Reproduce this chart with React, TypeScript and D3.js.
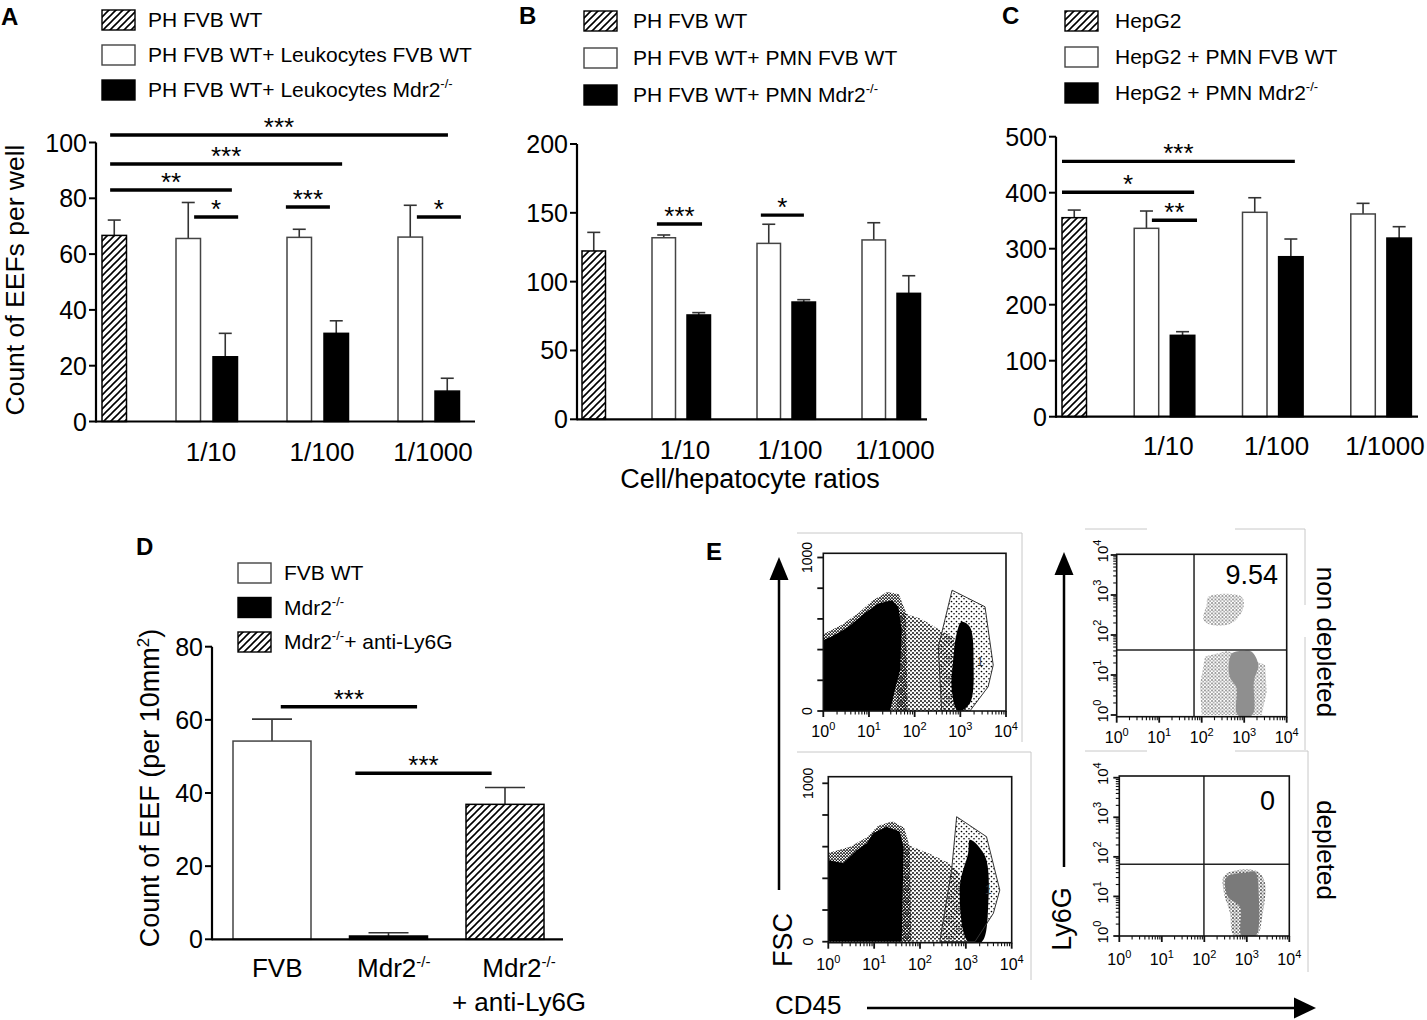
import * as d3 from "d3";

const FONT = "'Liberation Sans', Arial, Helvetica, sans-serif";

// ---------- panels A-C : bar charts ----------
const ratioLabels = ["1/10", "1/100", "1/1000"];

// A: count of EEFs per well (mean, sem)
const aCtrlMean = [66.7];
const aCtrlSem = [5.5];
const aWtMean = [65.6, 66.0, 66.1];
const aWtSem = [12.9, 2.9, 11.4];
const aMdrMean = [23.2, 31.6, 10.9];
const aMdrSem = [8.4, 4.5, 4.6];
const aLegend = ["PH FVB WT", "PH FVB WT+ Leukocytes FVB WT", "PH FVB WT+ Leukocytes Mdr2{-/-}"];
const aSig = [
  { from: 0.22, to: 9.35, y: 102.7, label: "***" },
  { from: 0.22, to: 6.49, y: 92.3, label: "***" },
  { from: 0.22, to: 3.51, y: 83.0, label: "**" },
  { from: 2.49, to: 3.68, y: 73.3, label: "*" },
  { from: 4.97, to: 6.16, y: 76.9, label: "***" },
  { from: 8.51, to: 9.7, y: 73.3, label: "*" },
];

// B
const bCtrlMean = [122.3];
const bCtrlSem = [13.5];
const bWtMean = [131.9, 127.8, 130.3];
const bWtSem = [2.0, 13.9, 12.5];
const bMdrMean = [75.8, 85.2, 91.5];
const bMdrSem = [1.7, 1.7, 12.8];
const bLegend = ["PH FVB WT", "PH FVB WT+ PMN FVB WT", "PH FVB WT+ PMN Mdr2{-/-}"];
const bSig = [
  { from: 2.14, to: 3.43, y: 141.9, label: "***" },
  { from: 5.11, to: 6.34, y: 148.3, label: "*" },
];

// C
const cCtrlMean = [355.4];
const cCtrlSem = [13.6];
const cWtMean = [336.4, 365, 362];
const cWtSem = [30.9, 26, 19];
const cMdrMean = [145.3, 285.7, 319];
const cMdrSem = [6.5, 31.6, 20.3];
const cLegend = ["HepG2", "HepG2 + PMN FVB WT", "HepG2 + PMN Mdr2{-/-}"];
const cSig = [
  { from: 0, to: 6.45, y: 456, label: "***" },
  { from: 0, to: 3.66, y: 400.7, label: "*" },
  { from: 2.49, to: 3.74, y: 350.7, label: "**" },
];

// D
const dGroups = ["FVB", "Mdr2{-/-}", "Mdr2{-/-}|+ anti-Ly6G"];
const dMean = [54.2, 0.9, 36.9];
const dSem = [6.0, 0.9, 4.6];
const dKinds = ["white", "black", "hatch"];
const dLegend = ["FVB WT", "Mdr2{-/-}", "Mdr2{-/-}+ anti-Ly6G"];
const legendKinds = ["hatch", "white", "black"];
const dSig = [
  { from: 0.41, to: 1.58, y: 63.6, label: "***" },
  { from: 1.05, to: 2.22, y: 45.4, label: "***" },
];

// ---------- panel E : flow cytometry (CD45 value, FSC / Ly6G value) ----------
type Pt = [number, number];
const tlHalo: Pt[] = [[1, 0], [1, 500], [2.5, 560], [6, 640], [12, 720], [25, 775], [45, 760], [65, 640], [70, 0]];
const tlBlob: Pt[] = [[1, 0], [1, 462], [1.5, 483], [3.5, 548], [8, 636], [16, 700], [32, 722], [44, 679], [52, 527], [48, 267], [37, 137], [29, 0]];
const tlSparse: Pt[] = [[45, 650], [140, 600], [400, 520], [700, 480], [1200, 200], [1500, 0], [40, 0]];
const tlCluster: Pt[] = [[1070, 581], [1620, 548], [1950, 310], [1620, 50], [890, 0], [650, 137], [710, 353], [830, 505]];
const tlGate: Pt[] = [[660, 787], [3470, 679], [5250, 299], [4070, 158], [1620, 0], [390, 0], [330, 418]];

const blHalo: Pt[] = [[1, 0], [1, 560], [3, 600], [7, 660], [12, 730], [25, 760], [45, 720], [60, 600], [65, 0]];
const blBlob: Pt[] = [[1, 0], [1, 516], [2.1, 495], [4.2, 579], [6.9, 621], [9.5, 684], [18.6, 726], [36, 695], [44, 600], [40, 0]];
const blSparse: Pt[] = [[45, 620], [150, 560], [400, 500], [700, 440], [1300, 150], [1600, 0], [40, 0]];
const blCluster: Pt[] = [[1230, 644], [2630, 539], [3090, 244], [2240, 0], [1120, 0], [740, 347], [1120, 558]];
const blGate: Pt[] = [[630, 789], [2820, 663], [5500, 326], [3980, 179], [1580, 0], [270, 0], [490, 453]];

const trUpper: Pt[] = [[144, 910], [870, 910], [950, 465], [510, 196], [172, 178], [110, 236], [130, 560]];
const trLowerSparse: Pt[] = [[120, 29], [400, 40], [3090, 18], [3390, 3.8], [2570, 1], [100, 1], [91, 5.6]];
const trLowerCore: Pt[] = [[430, 14], [520, 35], [1000, 40], [1500, 38], [2140, 18], [1700, 7], [1550, 1], [700, 1], [650, 5], [480, 8]];
const trQuad: Pt = [66, 42];

const brSparse: Pt[] = [[300, 35], [1600, 45], [2600, 25], [2300, 3], [1700, 1], [500, 1], [400, 4], [290, 12]];
const brCore: Pt[] = [[330, 30], [1000, 40], [1560, 42], [1900, 12], [1600, 1], [760, 1], [690, 5.5], [360, 9.8]];
const brQuad: Pt = [98, 65];

const decades = [1, 10, 100, 1000, 10000];

// ---------- helpers ----------
function fillOf(kind: string) {
  return kind === "hatch" ? "url(#hatch)" : kind === "black" ? "#000" : "#fff";
}

// "Mdr2{-/-}+ x" -> text with superscript
function Rich({ text, sup, shift }: { text: string; sup: number; shift: number }) {
  const parts = text.split(/[{}]/);
  let prevSup = false;
  return (
    <>
      {parts.map((p, i) => {
        const isSup = i % 2 === 1;
        if (p === "") return null;
        let dy = 0;
        if (isSup) dy = -shift;
        else if (prevSup) dy = shift;
        prevSup = isSup;
        return (
          <tspan key={i} dy={dy} fontSize={isSup ? sup : undefined}>
            {p}
          </tspan>
        );
      })}
    </>
  );
}

function buildBars(cm: number[], cs: number[], wm: number[], ws: number[], mm: number[], ms: number[]) {
  const out = [{ slot: 0, mean: cm[0], sem: cs[0], kind: "hatch" }];
  wm.forEach((v, g) => {
    out.push({ slot: 3 * g + 2, mean: v, sem: ws[g], kind: "white" });
    out.push({ slot: 3 * g + 3, mean: mm[g], sem: ms[g], kind: "black" });
  });
  return out;
}

type Bar = { slot: number; mean: number; sem: number; kind: string };
type Sig = { from: number; to: number; y: number; label: string };

function BarPanel(p: {
  axisX: number; y0: number; yTopPx: number; yMax: number; tickStep: number; xEnd: number;
  slotLeft: number; step: number; barW: number; capW: number; bars: Bar[]; sig: Sig[];
}) {
  const y = d3.scaleLinear().domain([0, p.yMax]).range([p.y0, p.yTopPx]);
  const sx = d3.scaleLinear().domain([0, 1]).range([p.slotLeft, p.slotLeft + p.step]);
  const ticks = d3.range(0, p.yMax + p.tickStep / 2, p.tickStep);
  return (
    <g>
      {p.bars.map((b, i) => {
        const x = sx(b.slot);
        const cx = x + p.barW / 2;
        const top = y(b.mean + b.sem);
        return (
          <g key={i}>
            <line x1={cx} x2={cx} y1={y(b.mean)} y2={top} stroke="#333" strokeWidth={1.6} />
            <line x1={cx - p.capW / 2} x2={cx + p.capW / 2} y1={top} y2={top} stroke="#333" strokeWidth={1.6} />
            <rect x={x} y={y(b.mean)} width={p.barW} height={p.y0 - y(b.mean)}
              fill={fillOf(b.kind)} stroke={b.kind === "white" ? "#444" : "#000"} strokeWidth={1.5} />
          </g>
        );
      })}
      <line x1={p.axisX} x2={p.axisX} y1={p.y0 + 1} y2={p.yTopPx} stroke="#000" strokeWidth={2.2} />
      <line x1={p.axisX} x2={p.xEnd} y1={p.y0} y2={p.y0} stroke="#000" strokeWidth={2.2} />
      {ticks.map((t) => (
        <g key={t}>
          <line x1={p.axisX - 7} x2={p.axisX} y1={y(t)} y2={y(t)} stroke="#000" strokeWidth={2} />
          <text x={p.axisX - 9} y={y(t)} dy="0.36em" fontSize={25} textAnchor="end">{t}</text>
        </g>
      ))}
      {p.sig.map((s, i) => (
        <g key={i}>
          <line x1={sx(s.from)} x2={sx(s.to)} y1={y(s.y)} y2={y(s.y)} stroke="#000" strokeWidth={3.4} />
          <text x={(sx(s.from) + sx(s.to)) / 2} y={y(s.y) + 1} fontSize={26} textAnchor="middle">{s.label}</text>
        </g>
      ))}
    </g>
  );
}

function Legend({ items, kinds, sx, tx, y0, gap }: { items: string[]; kinds: string[]; sx: number; tx: number; y0: number; gap: number }) {
  return (
    <g>
      {items.map((it, i) => (
        <g key={i}>
          <rect x={sx} y={y0 + i * gap - 17} width={33} height={20} fill={fillOf(kinds[i])}
            stroke={kinds[i] === "white" ? "#444" : "#000"} strokeWidth={1.4} />
          <text x={tx} y={y0 + i * gap} fontSize={21}>
            <Rich text={it} sup={13} shift={9} />
          </text>
        </g>
      ))}
    </g>
  );
}

function supLabel(v: number) {
  return "10{" + Math.round(Math.log10(v)) + "}";
}

type Layer = { pts: Pt[]; fill: string; smooth?: boolean };

function FlowPlot(p: {
  id: string; xRange: [number, number]; yRange: [number, number]; yLog: boolean;
  box: [number, number, number, number];
  layers: Layer[];
  gate?: Pt[]; gateTag?: Pt; quad?: Pt;
  xLabelY: number; yLabelX: number;
}) {
  const xs = d3.scaleLog().domain([1, 10000]).range(p.xRange);
  const ys: any = p.yLog
    ? d3.scaleLog().domain([1, 10000]).range(p.yRange)
    : d3.scaleLinear().domain([0, 1000]).range(p.yRange);
  const [L, T, R, B] = p.box;
  const smooth = d3.line<Pt>().x((d) => xs(d[0])).y((d) => ys(d[1])).curve(d3.curveCatmullRomClosed.alpha(0.5));
  const poly = d3.line<Pt>().x((d) => xs(d[0])).y((d) => ys(d[1])).curve(d3.curveLinearClosed);
  const xt = xs.ticks();
  const yt: number[] = p.yLog ? ys.ticks() : d3.range(0, 1001, 200);
  const isMajor = (v: number) => Math.abs(Math.log10(v) - Math.round(Math.log10(v))) < 1e-6;
  return (
    <g>
      <clipPath id={p.id}>
        <rect x={L} y={T} width={R - L} height={B - T} />
      </clipPath>
      <g clipPath={`url(#${p.id})`}>
        {p.layers.map((l, i) => (
          <path key={i} d={(l.smooth ? smooth(l.pts) : poly(l.pts)) || ""} fill={l.fill} />
        ))}
        {p.gate && <path d={poly(p.gate) || ""} fill="none" stroke="#333" strokeWidth={1} />}
      </g>
      {p.gateTag && (
        <text x={xs(p.gateTag[0])} y={ys(p.gateTag[1])} fontSize={12} fill="#333">1</text>
      )}
      {p.quad && (
        <g stroke="#222" strokeWidth={1.5}>
          <line x1={xs(p.quad[0])} x2={xs(p.quad[0])} y1={T} y2={B} />
          <line x1={L} x2={R} y1={ys(p.quad[1])} y2={ys(p.quad[1])} />
        </g>
      )}
      <rect x={L} y={T} width={R - L} height={B - T} fill="none" stroke="#111" strokeWidth={1.6} />
      {xt.map((v, i) => (
        <line key={i} x1={xs(v)} x2={xs(v)} y1={B} y2={B + (isMajor(v) ? 6 : 3.5)} stroke="#111" strokeWidth={isMajor(v) ? 1.8 : 1.1} />
      ))}
      {decades.map((v) => (
        <text key={v} x={xs(v)} y={p.xLabelY} fontSize={16} textAnchor="middle">
          <Rich text={supLabel(v)} sup={11} shift={7} />
        </text>
      ))}
      {yt.map((v, i) => {
        const major = p.yLog ? isMajor(v) : true;
        return <line key={i} x1={L - (major ? 6 : 3.5)} x2={L} y1={ys(v)} y2={ys(v)} stroke="#111" strokeWidth={major ? 1.8 : 1.1} />;
      })}
      {p.yLog
        ? decades.map((v) => (
            <text key={v} transform={`translate(${p.yLabelX},${ys(v) - 4}) rotate(-90)`} fontSize={15} textAnchor="middle">
              <Rich text={supLabel(v)} sup={11} shift={7} />
            </text>
          ))
        : [0, 1000].map((v) => (
            <text key={v} transform={`translate(${p.yLabelX},${ys(v)}) rotate(-90)`} fontSize={14} textAnchor="middle">{v}</text>
          ))}
    </g>
  );
}

export default function App() {
  const aBars = buildBars(aCtrlMean, aCtrlSem, aWtMean, aWtSem, aMdrMean, aMdrSem);
  const bBars = buildBars(bCtrlMean, bCtrlSem, bWtMean, bWtSem, bMdrMean, bMdrSem);
  const cBars = buildBars(cCtrlMean, cCtrlSem, cWtMean, cWtSem, cMdrMean, cMdrSem);
  const dBars = dMean.map((m, i) => ({ slot: i, mean: m, sem: dSem[i], kind: dKinds[i] }));

  // x positions of ratio labels, on the slot scale of each panel
  const aX = d3.scaleLinear().domain([0, 1]).range([102, 139]);
  const bX = d3.scaleLinear().domain([0, 1]).range([582, 617]);
  const cX = d3.scaleLinear().domain([0, 1]).range([1062, 1098.1]);
  const dX = d3.scaleLinear().domain([0, 1]).range([233, 349.5]);
  const dShift = [0.38, 0.38, 0.455];

  const frameSegs = [
    [797, 533, 1022, 533], [1022, 533, 1022, 742],
    [797, 752, 1031, 752], [1031, 752, 1031, 980],
    [1085, 529, 1147, 529], [1235, 529, 1305, 529], [1305, 529, 1305, 605], [1305, 637, 1305, 750],
    [1085, 751, 1147, 751], [1235, 751, 1308, 751], [1308, 751, 1308, 972],
  ];

  return (
    <svg width={1427} height={1020} viewBox="0 0 1427 1020" fontFamily={FONT}
      style={{ position: "absolute", left: 0, top: 0, background: "#fff" }}>
      <defs>
        <pattern id="hatch" width="7" height="7" patternUnits="userSpaceOnUse">
          <path d="M-1,1 L1,-1 M0,7 L7,0 M6,8 L8,6" stroke="#000" strokeWidth="1.6" />
        </pattern>
        <pattern id="dotsDense" width="4" height="4" patternUnits="userSpaceOnUse">
          <circle cx="1" cy="1" r="0.95" fill="#000" />
          <circle cx="3" cy="2.7" r="0.9" fill="#000" />
        </pattern>
        <pattern id="dotsHalo" width="3" height="3" patternUnits="userSpaceOnUse">
          <circle cx="1" cy="1" r="0.9" fill="#000" />
          <circle cx="2.4" cy="2.3" r="0.7" fill="#000" />
        </pattern>
        <pattern id="dotsSparse" width="5" height="5" patternUnits="userSpaceOnUse">
          <circle cx="1.5" cy="1.5" r="0.85" fill="#000" />
          <circle cx="4" cy="3.8" r="0.8" fill="#000" />
        </pattern>
        <pattern id="dotsGray" width="3.5" height="3.5" patternUnits="userSpaceOnUse">
          <circle cx="1" cy="1" r="1" fill="#888" />
          <circle cx="2.7" cy="2.6" r="0.9" fill="#999" />
        </pattern>
        <pattern id="dotsGrayDark" width="3.5" height="3.5" patternUnits="userSpaceOnUse">
          <circle cx="1" cy="1" r="1" fill="#444" />
          <circle cx="2.7" cy="2.6" r="0.9" fill="#777" />
        </pattern>
      </defs>
      <rect width={1427} height={1020} fill="#fff" />

      {/* panel letters */}
      <g fontSize={24} fontWeight="bold">
        <text x={1} y={25}>A</text>
        <text x={519} y={24}>B</text>
        <text x={1002} y={24}>C</text>
        <text x={136} y={555}>D</text>
        <text x={706} y={560}>E</text>
      </g>

      {/* A */}
      <Legend items={aLegend} kinds={legendKinds} sx={102} tx={148} y0={27} gap={35} />
      <BarPanel axisX={96} y0={421.5} yTopPx={142.5} yMax={100} tickStep={20} xEnd={475}
        slotLeft={102} step={37} barW={24.5} capW={13} bars={aBars} sig={aSig} />
      {ratioLabels.map((l, g) => (
        <text key={l} x={aX(3 * g + 3) - 2} y={461} fontSize={26} textAnchor="middle">{l}</text>
      ))}
      <text transform="translate(24,280) rotate(-90)" fontSize={26.5} textAnchor="middle">Count of EEFs per well</text>

      {/* B */}
      <Legend items={bLegend} kinds={legendKinds} sx={584} tx={633} y0={28} gap={37} />
      <BarPanel axisX={577} y0={419.3} yTopPx={144} yMax={200} tickStep={50} xEnd={927}
        slotLeft={582} step={35} barW={23.5} capW={13} bars={bBars} sig={bSig} />
      {ratioLabels.map((l, g) => (
        <text key={l} x={bX(3 * g + 3) - 2} y={459} fontSize={26} textAnchor="middle">{l}</text>
      ))}
      <text x={750} y={488} fontSize={27} textAnchor="middle">Cell/hepatocyte ratios</text>

      {/* C */}
      <Legend items={cLegend} kinds={legendKinds} sx={1065} tx={1115} y0={28} gap={36} />
      <BarPanel axisX={1056} y0={416.7} yTopPx={136.7} yMax={500} tickStep={100} xEnd={1418}
        slotLeft={1062} step={36.1} barW={24.5} capW={13} bars={cBars} sig={cSig} />
      {ratioLabels.map((l, g) => (
        <text key={l} x={cX(3 * g + 3) - 2} y={455} fontSize={26} textAnchor="middle">{l}</text>
      ))}

      {/* D */}
      <Legend items={dLegend} kinds={dKinds} sx={238} tx={284} y0={580} gap={34.5} />
      <BarPanel axisX={212} y0={939.3} yTopPx={646.7} yMax={80} tickStep={20} xEnd={563}
        slotLeft={233} step={116.5} barW={78} capW={40} bars={dBars} sig={dSig} />
      {dGroups.map((g, i) => (
        <text key={i} x={dX(i + dShift[i])} y={977} fontSize={26} textAnchor="middle">
          {g.split("|").map((line, j) => (
            <tspan key={j} x={dX(i + dShift[i])} y={977 + j * 34}>
              <Rich text={line} sup={15} shift={10} />
            </tspan>
          ))}
        </text>
      ))}
      <text transform="translate(159,788) rotate(-90)" fontSize={27} textAnchor="middle">
        <Rich text="Count of EEF  (per 10mm{2})" sup={17} shift={10} />
      </text>

      {/* E : frames */}
      {frameSegs.map((s, i) => (
        <line key={i} x1={s[0]} y1={s[1]} x2={s[2]} y2={s[3]} stroke="#c8c8c8" strokeWidth={1} />
      ))}

      <FlowPlot id="tl" xRange={[823.3, 1006]} yRange={[711, 557.5]} yLog={false}
        box={[823.3, 553.3, 1006, 711]}
        layers={[{ pts: tlSparse, fill: "url(#dotsDense)" }, { pts: tlGate, fill: "url(#dotsSparse)" },
          { pts: tlHalo, fill: "url(#dotsHalo)" },
          { pts: tlBlob, fill: "#000" }, { pts: tlCluster, fill: "#000", smooth: true }]}
        gate={tlGate} gateTag={[2300, 290]} xLabelY={737} yLabelX={812} />
      <FlowPlot id="bl" xRange={[828.3, 1011.7]} yRange={[941.7, 783.3]} yLog={false}
        box={[828.3, 776.7, 1011.7, 942.7]}
        layers={[{ pts: blSparse, fill: "url(#dotsDense)" }, { pts: blGate, fill: "url(#dotsSparse)" },
          { pts: blHalo, fill: "url(#dotsHalo)" },
          { pts: blBlob, fill: "#000" }, { pts: blCluster, fill: "#000", smooth: true }]}
        gate={blGate} gateTag={[2600, 300]} xLabelY={970} yLabelX={813} />
      <FlowPlot id="tr" xRange={[1116.7, 1286.7]} yRange={[715, 555]} yLog={true}
        box={[1116.7, 554.3, 1286.7, 716.7]}
        layers={[{ pts: trUpper, fill: "url(#dotsGray)", smooth: true },
          { pts: trLowerSparse, fill: "url(#dotsGray)" }, { pts: trLowerCore, fill: "#8f8f8f", smooth: true }]}
        quad={trQuad} xLabelY={743} yLabelX={1108} />
      <FlowPlot id="br" xRange={[1119.3, 1289.3]} yRange={[936, 777.7]} yLog={true}
        box={[1119.3, 776, 1289.3, 936]}
        layers={[{ pts: brSparse, fill: "url(#dotsGrayDark)", smooth: true }, { pts: brCore, fill: "#7a7a7a", smooth: true }]}
        quad={brQuad} xLabelY={965} yLabelX={1108} />

      <text x={1278} y={584} fontSize={27} textAnchor="end">9.54</text>
      <text x={1275} y={810} fontSize={27} textAnchor="end">0</text>
      <text transform="translate(1317,642) rotate(90)" fontSize={26} textAnchor="middle">non depleted</text>
      <text transform="translate(1317,850) rotate(90)" fontSize={26} textAnchor="middle">depleted</text>

      {/* arrows */}
      <line x1={779} x2={779} y1={890} y2={575} stroke="#000" strokeWidth={2.5} />
      <path d="M779,557 L769.5,580 L788.5,580 Z" fill="#000" />
      <line x1={1064} x2={1064} y1={867} y2={570} stroke="#000" strokeWidth={2.5} />
      <path d="M1064,552 L1054.5,575 L1073.5,575 Z" fill="#000" />
      <line x1={867} x2={1297} y1={1008} y2={1008} stroke="#000" strokeWidth={2.5} />
      <path d="M1316,1008 L1294,997.5 L1294,1018.5 Z" fill="#000" />
      <text transform="translate(792,940) rotate(-90)" fontSize={27} textAnchor="middle">FSC</text>
      <text transform="translate(1071,919) rotate(-90)" fontSize={27} textAnchor="middle">Ly6G</text>
      <text x={775} y={1014} fontSize={26}>CD45</text>
    </svg>
  );
}
